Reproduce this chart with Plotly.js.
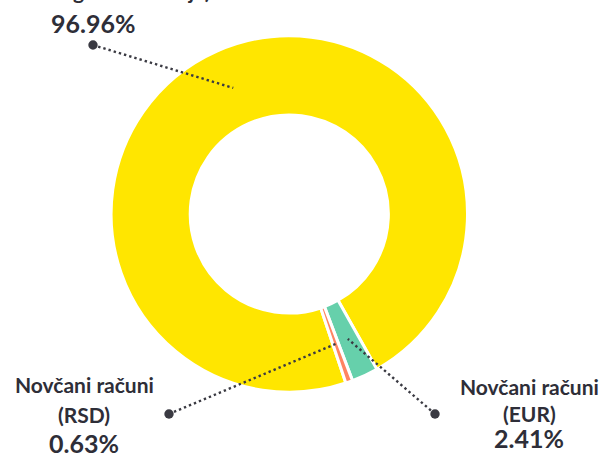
<!DOCTYPE html>
<html>
<head>
<meta charset="utf-8">
<script src="https://cdn.plot.ly/plotly-3.0.1.min.js"></script>
<style>html,body{margin:0;padding:0;background:#fff;overflow:hidden}</style>
</head>
<body>
<div id="chart" style="width:603px;height:457px"></div>
<script>
// ---- data ----
const categories = ["Oročena štednja", "Novčani računi (EUR)", "Novčani računi (RSD)"];
const nameLine1 = ["Oročena štednja", "Novčani računi", "Novčani računi"];
const nameLine2 = ["(Oročeni ugovori štednje)", "(EUR)", "(RSD)"];
const shares = [96.96, 2.41, 0.63];
const percentLabels = ["96.96%", "2.41%", "0.63%"];
const colors = ["#FFE600", "#66D0AB", "#FF8462"];

// ---- layout / style ----
const W = 603, H = 457;
const cx = 289.3, cy = 214, R = 178.2;
const hole = 0.556;
const rotation = 161.5;
const textColor = "#2E2E38";
const fontFam = "Lato, 'Open Sans', sans-serif";
// label anchor dots (pixels) and text centres
const anchors = [[93, 45], [435, 414], [169, 414]];
const textX = [93, 529, 84];
const line1Y = [-38, 386, 384];
const line2Y = [-9.5, 413, 414];
const pctY = [22.5, 438, 442.5];

const px = x => x / W;
const py = y => 1 - y / H;

// mid angles from data
const total = shares.reduce((a, b) => a + b, 0);
let cum = 0;
const rMid = (R * 0.99 + R * hole) / 2 + 0.2;
const shapes = [];
const annotations = [];
shares.forEach((v, i) => {
  const mid = (rotation + (cum + v / 2) / total * 360) * Math.PI / 180;
  cum += v;
  const ex = cx + rMid * Math.sin(mid);
  const ey = cy - rMid * Math.cos(mid);
  const [ax, ay] = anchors[i];
  shapes.push({type: "line", xref: "paper", yref: "paper",
    x0: px(ax), y0: py(ay), x1: px(ex), y1: py(ey),
    line: {color: "#3A3A42", width: 2.4, dash: "2.4px,3px"}});
  const dr = 4.7;
  shapes.push({type: "circle", xref: "paper", yref: "paper",
    x0: px(ax - dr), x1: px(ax + dr), y0: py(ay + dr), y1: py(ay - dr),
    fillcolor: "#3A3A42", line: {width: 0}});
  annotations.push({xref: "paper", yref: "paper", x: px(textX[i]), y: py(line1Y[i]),
    xanchor: "center", yanchor: "middle", showarrow: false, text: nameLine1[i],
    font: {family: fontFam, size: 21, color: textColor, weight: 700}});
  annotations.push({xref: "paper", yref: "paper", x: px(textX[i]), y: py(line2Y[i]),
    xanchor: "center", yanchor: "middle", showarrow: false, text: nameLine2[i],
    font: {family: fontFam, size: 21, color: textColor, weight: 700}});
  annotations.push({xref: "paper", yref: "paper", x: px(textX[i]), y: py(pctY[i]),
    xanchor: "center", yanchor: "middle", showarrow: false, text: percentLabels[i],
    font: {family: fontFam, size: 25, color: textColor, weight: 700}});
});

const trace = {
  type: "pie",
  labels: categories,
  values: shares,
  hole: hole,
  sort: false,
  direction: "clockwise",
  rotation: rotation,
  textinfo: "none",
  hoverinfo: "label+percent",
  marker: {colors: colors, line: {color: "#ffffff", width: 3}},
  domain: {x: [px(cx - R), px(cx + R)], y: [py(cy + R), py(cy - R)]},
  showlegend: false
};

Plotly.newPlot("chart", [trace], {
  width: W, height: H,
  margin: {l: 0, r: 0, t: 0, b: 0},
  paper_bgcolor: "#ffffff",
  showlegend: false,
  shapes: shapes,
  annotations: annotations
}, {displayModeBar: false, staticPlot: true});
</script>
</body>
</html>
